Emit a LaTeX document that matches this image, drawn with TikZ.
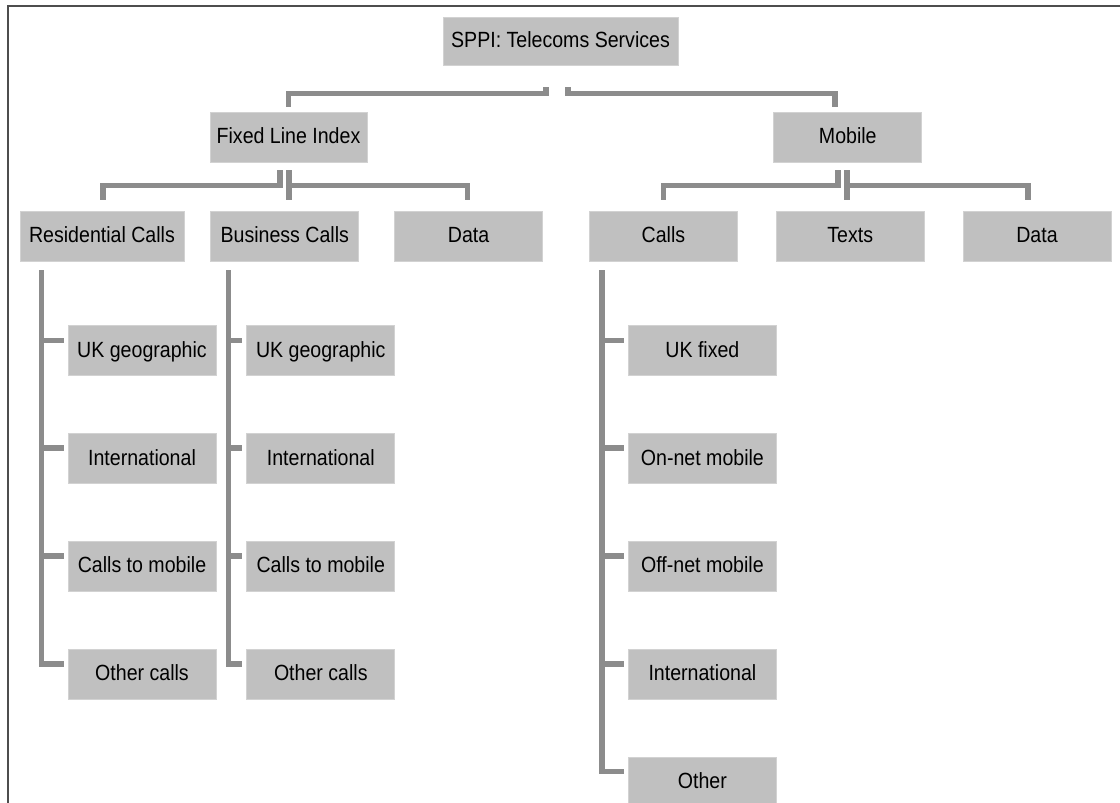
\documentclass[tikz,border=0pt]{standalone}
\usepackage{fontspec}
\setmainfont{Liberation Sans}[FakeStretch=0.89]
\usepackage{xcolor}
\usetikzlibrary{positioning,calc}
\definecolor{boxfill}{HTML}{C0C0C0}
\definecolor{boxline}{HTML}{D2D2D2}
\definecolor{wire}{HTML}{8C8C8C}
\definecolor{rim}{HTML}{4D4D4D}
\tikzset{
  cat/.style={draw=boxline,line width=0.8pt,fill=boxfill,minimum width=148pt,minimum height=50pt,inner sep=2pt,align=center,text height=17pt,text depth=4pt,font=\fontsize{22}{26}\selectfont},
  leaf/.style={cat,anchor=north west},
  link/.style={draw=wire,line width=5.5pt},
  frame/.style={draw=rim,line width=2pt}
}
\begin{document}
\begin{tikzpicture}[x=1pt,y=-1pt,node distance=57pt]
    \useasboundingbox (0,0) rectangle (1120,803);
    \draw[frame] (8,803) -- (8,6) -- (1120,6);

    \node[cat,minimum width=235pt,minimum height=48pt] (root) at (560.5,41) {SPPI: Telecoms Services};
    \node[cat,minimum width=157pt] (fixed) at (288.5,137) {Fixed Line Index};
    \node[cat,right=406pt of fixed] (mobile) {Mobile};

    \node[cat,minimum width=164pt] (res) at (102,236) {Residential Calls};
    \node[cat,right=26pt of res] (bus) {Business Calls};
    \node[cat,right=35pt of bus] (fdata) {Data};
    \node[cat,right=46pt of fdata] (mcalls) {Calls};
    \node[cat,right=38pt of mcalls] (texts) {Texts};
    \node[cat,right=38pt of texts] (mdata) {Data};

    \node[leaf,below right=64pt and 48pt of res.south west] (resgeo) {UK geographic};
    \node[leaf,below=of resgeo] (resintl) {International};
    \node[leaf,below=of resintl] (resmob) {Calls to mobile};
    \node[leaf,below=of resmob] (resother) {Other calls};

    \node[leaf,below right=64pt and 36pt of bus.south west] (busgeo) {UK geographic};
    \node[leaf,below=of busgeo] (busintl) {International};
    \node[leaf,below=of busintl] (busmob) {Calls to mobile};
    \node[leaf,below=of busmob] (busother) {Other calls};

    \node[leaf,below right=64pt and 39pt of mcalls.south west] (mfixed) {UK fixed};
    \node[leaf,below=of mfixed] (monnet) {On-net mobile};
    \node[leaf,below=of monnet] (moffnet) {Off-net mobile};
    \node[leaf,below=of moffnet] (mintl) {International};
    \node[leaf,below=of mintl] (mother) {Other};

    \draw[link] ($(root.south)+(-14.5,22)$) -- ++(0,6) -| ($(fixed.north)+(0,-5)$);
    \draw[link] ($(root.south)+(7.5,22)$) -- ++(0,6) -| ($(mobile.north)+(-13,-5)$);

    \draw[link] ($(fixed.south)+(-8.5,8)$) -- ++(0,15) -| ($(res.north)+(1,-11)$);
    \draw[link] ($(fixed.south)+(0.5,8)$) -- ++(0,30);
    \draw[link] ($(fixed.south)+(0.5,23)$) -| ($(fdata.north)+(-1,-11)$);

    \draw[link] ($(mobile.south)+(-10,8)$) -- ++(0,15) -| ($(mcalls.north)+(0,-11)$);
    \draw[link] ($(mobile.south)+(-1,8)$) -- ++(0,30);
    \draw[link] ($(mobile.south)+(-1,23)$) -| ($(mdata.north)+(-9,-11)$);

    \coordinate (rspine) at ($(res.south west)+(22,9)$);
    \draw[link] (rspine) |- ($(resother.north west)+(-4,15)$);
    \draw[link] ($(rspine |- resgeo.north)+(0,15)$) -- ($(resgeo.north west)+(-4,15)$);
    \draw[link] ($(rspine |- resintl.north)+(0,15)$) -- ($(resintl.north west)+(-4,15)$);
    \draw[link] ($(rspine |- resmob.north)+(0,15)$) -- ($(resmob.north west)+(-4,15)$);

    \coordinate (bspine) at ($(bus.south west)+(18,9)$);
    \draw[link] (bspine) |- ($(busother.north west)+(-4,15)$);
    \draw[link] ($(bspine |- busgeo.north)+(0,15)$) -- ($(busgeo.north west)+(-4,15)$);
    \draw[link] ($(bspine |- busintl.north)+(0,15)$) -- ($(busintl.north west)+(-4,15)$);
    \draw[link] ($(bspine |- busmob.north)+(0,15)$) -- ($(busmob.north west)+(-4,15)$);

    \coordinate (mspine) at ($(mcalls.south west)+(13,9)$);
    \draw[link] (mspine) |- ($(mother.north west)+(-4,15)$);
    \draw[link] ($(mspine |- mfixed.north)+(0,15)$) -- ($(mfixed.north west)+(-4,15)$);
    \draw[link] ($(mspine |- monnet.north)+(0,15)$) -- ($(monnet.north west)+(-4,15)$);
    \draw[link] ($(mspine |- moffnet.north)+(0,15)$) -- ($(moffnet.north west)+(-4,15)$);
    \draw[link] ($(mspine |- mintl.north)+(0,15)$) -- ($(mintl.north west)+(-4,15)$);
\end{tikzpicture}
\end{document}
